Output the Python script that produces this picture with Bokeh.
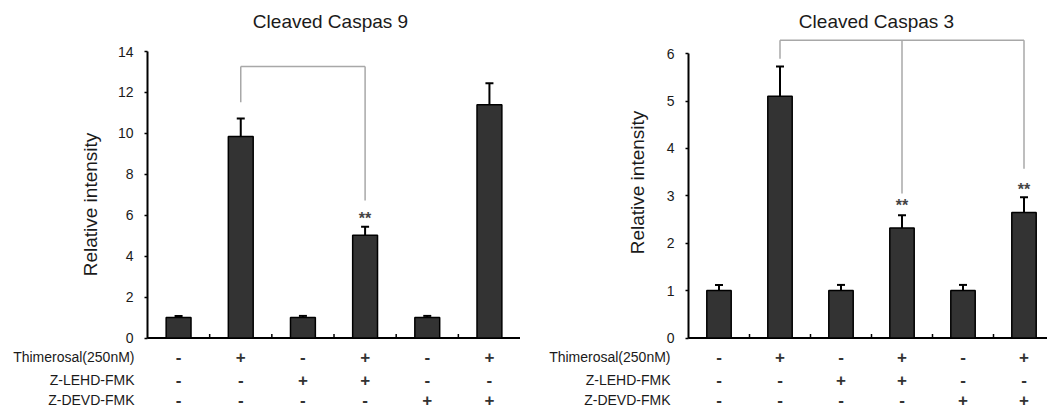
import numpy as np
from bokeh.plotting import figure
from bokeh.models import Range1d, FixedTicker, Whisker, TeeHead, ColumnDataSource
from bokeh.layouts import row
from bokeh.embed import file_html
from bokeh.resources import INLINE
from bokeh.core.properties import value

# ---------------- data ----------------
row_names = ["Thimerosal(250nM)", "Z-LEHD-FMK", "Z-DEVD-FMK"]
thimerosal = ["-", "+", "-", "+", "-", "+"]
lehd = ["-", "-", "+", "+", "-", "-"]
devd = ["-", "-", "-", "-", "+", "+"]

casp9_title = "Cleaved Caspas 9"
casp9_mean = [1.0, 9.85, 1.0, 5.02, 1.0, 11.4]
casp9_err = [0.08, 0.88, 0.08, 0.42, 0.08, 1.05]
casp9_ticks = [0, 2, 4, 6, 8, 10, 12, 14]
casp9_star_groups = [3]
casp9_star_y = [5.84]
casp9_bracket_groups = [1, 3]
casp9_bracket_top = 13.27
casp9_bracket_ends = [11.52, 6.72]

casp3_title = "Cleaved Caspas 3"
casp3_mean = [1.0, 5.1, 1.0, 2.32, 1.0, 2.65]
casp3_err = [0.12, 0.63, 0.12, 0.27, 0.12, 0.32]
casp3_ticks = [0, 1, 2, 3, 4, 5, 6]
casp3_star_groups = [3, 5]
casp3_star_y = [2.80, 3.13]
casp3_bracket_groups = [1, 3, 5]
casp3_bracket_top = 6.28
casp3_bracket_ends = [5.89, 3.05, 3.57]

FONT = "Liberation Sans"
H = 409
TXT = "#1a1a1a"


def make_chart(title, mean, err, ticks, star_groups, star_y, br_groups, br_top, br_ends,
               width, axis_px, px_per_cat, base_px, px_per_unit,
               title_px, ylabel_px, rowname_right_px):
    # layout: the frame fills the whole figure; axis drawn at data x = 0
    x_start = -axis_px / px_per_cat
    x_end = (width - axis_px) / px_per_cat
    y_start = -(H - base_px) / px_per_unit
    y_end = y_start + H / px_per_unit

    def xd(px):  # figure pixel x -> data
        return (px - axis_px) / px_per_cat

    def yd(py):  # figure pixel y (from top) -> data
        return (base_px - py) / px_per_unit

    p = figure(width=width, height=H, output_backend="svg", toolbar_location=None,
               x_range=Range1d(x_start, x_end), y_range=Range1d(y_start, y_end),
               x_axis_location=None, min_border_left=0, min_border_right=0,
               min_border_top=0, min_border_bottom=0, outline_line_color=None)
    p.title.visible = False
    p.xgrid.visible = False
    p.ygrid.visible = False
    p.background_fill_color = "white"
    p.border_fill_color = "white"

    ax = p.yaxis[0]
    ax.fixed_location = 0
    ax.bounds = (ticks[0], ticks[-1])
    ax.ticker = FixedTicker(ticks=ticks)
    ax.axis_line_width = 2
    ax.axis_line_color = "black"
    ax.major_tick_in = 0
    ax.major_tick_out = 3
    ax.major_tick_line_width = 1.5
    ax.minor_tick_line_color = None
    ax.major_label_standoff = 11
    ax.major_label_text_font = FONT
    ax.major_label_text_font_size = "14px"
    ax.major_label_text_color = TXT

    n = len(mean)
    xs = np.arange(n) + 0.5
    src = ColumnDataSource(dict(x=xs, top=mean, upper=np.array(mean) + np.array(err)))

    # baseline and category separators
    p.segment(x0=[0], y0=[0], x1=[n], y1=[0], line_color="black", line_width=2)
    seps = np.arange(1, n)
    p.segment(x0=seps, y0=np.zeros(len(seps)), x1=seps, y1=np.full(len(seps), 4 / px_per_unit),
              line_color="black", line_width=1.5)

    p.vbar(x="x", top="top", width=0.4, bottom=0, source=src,
           fill_color="#333333", line_color="black", line_width=1.5)
    p.add_layout(Whisker(source=src, base="x", upper="upper", lower="top", dimension="height",
                         line_color="black", line_width=2, lower_head=None,
                         upper_head=TeeHead(size=8, line_width=2, line_color="black")))

    # significance bracket
    bx = xs[br_groups]
    p.segment(x0=[bx[0]], y0=[br_top], x1=[bx[-1]], y1=[br_top], line_color="#a8a8a8", line_width=1.5)
    p.segment(x0=bx, y0=np.full(len(bx), br_top), x1=bx, y1=br_ends, line_color="#a8a8a8", line_width=1.5)

    p.text(x=xs[star_groups], y=star_y, text=["**"] * len(star_groups), text_font=value(FONT),
           text_font_size="16px", text_font_style="bold", text_align="center",
           text_baseline="middle", text_color="#444444")

    # condition rows
    row_px = [356, 379, 399]
    for signs, rname, rp in zip([thimerosal, lehd, devd], row_names, row_px):
        p.text(x=xs, y=np.full(n, yd(rp)), text=signs, text_font=value(FONT), text_font_size="17px",
               text_font_style="bold", text_align="center", text_baseline="middle", text_color="#333333")
        p.text(x=[xd(rowname_right_px)], y=[yd(rp)], text=[rname], text_font=value(FONT),
               text_font_size="14px", text_align="right", text_baseline="middle", text_color=TXT)

    p.text(x=[xd(title_px[0])], y=[yd(title_px[1])], text=[title], text_font=value(FONT),
           text_font_size="19px", text_align="center", text_baseline="middle", text_color=TXT)
    p.text(x=[xd(ylabel_px[0])], y=[yd(ylabel_px[1])], text=["Relative intensity"],
           text_font=value(FONT), text_font_size="19px", text_align="center",
           text_baseline="middle", angle=np.pi / 2, text_color=TXT)
    return p


p1 = make_chart(casp9_title, casp9_mean, casp9_err, casp9_ticks, casp9_star_groups, casp9_star_y,
                casp9_bracket_groups, casp9_bracket_top, casp9_bracket_ends,
                width=520, axis_px=147, px_per_cat=62.17, base_px=337.5, px_per_unit=20.46,
                title_px=(330, 20.5), ylabel_px=(90, 204), rowname_right_px=134)
p2 = make_chart(casp3_title, casp3_mean, casp3_err, casp3_ticks, casp3_star_groups, casp3_star_y,
                casp3_bracket_groups, casp3_bracket_top, casp3_bracket_ends,
                width=527, axis_px=168, px_per_cat=61.0, base_px=337.5, px_per_unit=47.4,
                title_px=(356, 20.5), ylabel_px=(117, 182), rowname_right_px=150)

layout = row(p1, p2, spacing=0)
open("out.html", "w").write(file_html(layout, INLINE))
